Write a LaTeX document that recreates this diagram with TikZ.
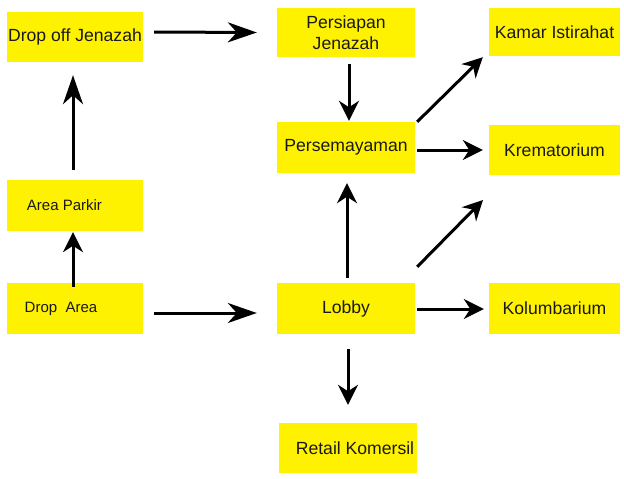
\documentclass[tikz,border=0pt]{standalone}
\usepackage{fontspec}
\setmainfont{Liberation Sans}
\usetikzlibrary{arrows.meta}
\tikzset{
  box/.style={fill=yellow, draw=none, inner sep=0pt, text=black!90,
    font=\fontsize{17.6}{21}\selectfont},
  smallbox/.style={box, font=\fontsize{15}{18}\selectfont},
  arr/.style={line width=3pt, -{Stealth[length=20pt,width=20pt,inset=6.5pt]}},
  arrl/.style={line width=3pt, -{Stealth[length=29pt,width=20pt,inset=9pt]}},
}
\begin{document}
\begin{tikzpicture}[x=1pt,y=-1pt]
\useasboundingbox (0,0) rectangle (624,479);
% boxes
\node[box, minimum width=136pt, minimum height=50pt] (dropoff) at (75,37) {Drop off Jenazah};
\node[box, align=center, minimum width=138pt, minimum height=49pt] (persiapan) at (346,32.5) {Persiapan\\Jenazah};
\node[box, minimum width=131pt, minimum height=48pt] (kamar) at (554.5,32) {Kamar Istirahat};
\node[box, minimum width=138pt, minimum height=51pt] (persem) at (346,147.5) {Persemayaman};
\node[box, minimum width=131pt, minimum height=50pt] (krem) at (554.5,150) {Krematorium};
\node[smallbox, minimum width=136pt, minimum height=51pt] (parkir) at (75,205.5) {Area Parkir\hspace*{21pt}};
\node[smallbox, minimum width=136pt, minimum height=51pt] (droparea) at (75,308.5) {Drop\ \ Area\hspace*{28pt}};
\node[box, minimum width=138pt, minimum height=51pt] (lobby) at (346,308.5) {Lobby};
\node[box, minimum width=131pt, minimum height=51pt] (kolum) at (554.5,308.5) {Kolumbarium};
\node[box, minimum width=138pt, minimum height=50pt] (retail) at (348,448) {\hspace*{14pt}Retail Komersil};
\coordinate (free) at (483,200);
% connectors
\draw[arrl] ([shift={(11pt,5pt)}]dropoff.east) -- ([xshift=-20pt]persiapan.west);
\draw[arr] ([shift={(3pt,-7pt)}]persiapan.south) -- ([shift={(3pt,1pt)}]persem.north);
\draw[arr] ([xshift=2pt]persem.north east) -- ([shift={(-6pt,-1pt)}]kamar.south west);
\draw[arr] ([shift={(2pt,-2.5pt)}]persem.east) -- ([xshift=-6pt]krem.west);
\draw[arr] ([shift={(1pt,5pt)}]lobby.north) -- ([shift={(1pt,-10pt)}]persem.south);
\draw[arr] ([shift={(2pt,16pt)}]lobby.north east) -- (free);
\draw[arr] ([shift={(2pt,-0.5pt)}]lobby.east) -- ([shift={(-5pt,-0.5pt)}]kolum.west);
\draw[arr] ([shift={(2pt,-15pt)}]lobby.south) -- ([yshift=18pt]retail.north);
\draw[arrl] ([shift={(11pt,-4.5pt)}]droparea.east) -- ([shift={(-20pt,-4.5pt)}]lobby.west);
\draw[arr] ([shift={(-2pt,-4pt)}]droparea.north) -- ([shift={(-2pt,-1pt)}]parkir.south);
\draw[arrl] ([shift={(-2pt,10pt)}]parkir.north) -- ([shift={(-2pt,-13pt)}]dropoff.south);
\end{tikzpicture}
\end{document}
